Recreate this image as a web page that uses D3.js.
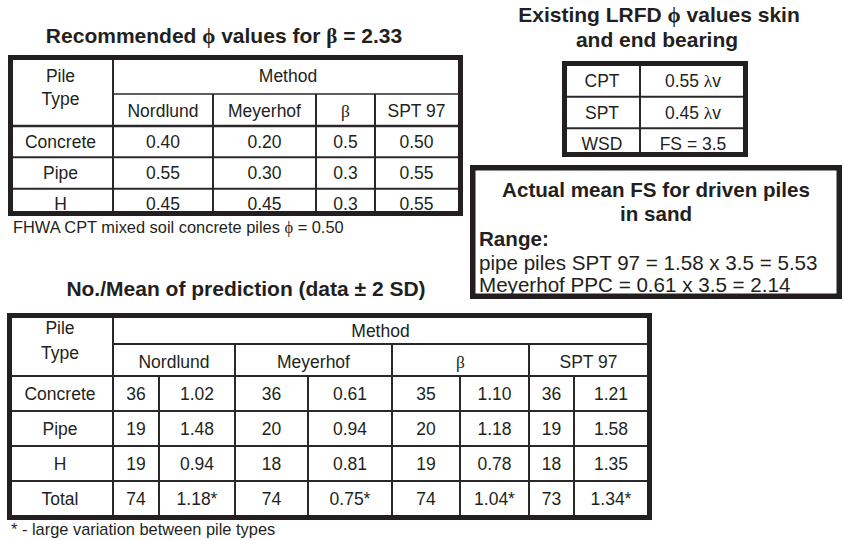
<!DOCTYPE html>
<html><head><meta charset="utf-8">
<script src="https://cdn.jsdelivr.net/npm/d3@7/dist/d3.min.js"></script>
<style>html,body{margin:0;padding:0;background:#fff}svg{display:block}</style>
</head><body>
<svg id="c" width="843" height="540"></svg>
<script>
// ---------- DATA ----------
const phiTitle = "Recommended ϕ values for β = 2.33";
const pileTypesPhi = ["Concrete", "Pipe", "H"];
const methods = ["Nordlund", "Meyerhof", "β", "SPT 97"];
const phiNordlund = [0.40, 0.55, 0.45];
const phiMeyerhof = [0.20, 0.30, 0.45];
const phiBeta = [0.5, 0.3, 0.3];
const phiSpt97 = [0.50, 0.55, 0.55];
const phiNote = "FHWA CPT mixed soil concrete piles ϕ = 0.50";

const lrfdTitle = ["Existing LRFD ϕ values skin", "and end bearing"];
const lrfdMethods = ["CPT", "SPT", "WSD"];
const lrfdValues = ["0.55 λv", "0.45 λv", "FS = 3.5"];

const fsTitle = ["Actual mean FS for driven piles", "in sand"];
const fsRangeLabel = "Range:";
const fsRangeLines = ["pipe piles SPT 97 = 1.58 x 3.5 = 5.53", "Meyerhof PPC = 0.61 x 3.5 = 2.14"];

const predTitle = "No./Mean of prediction (data ± 2 SD)";
const pileTypesPred = ["Concrete", "Pipe", "H", "Total"];
const countNordlund = [36, 19, 19, 74];
const meanNordlund = [1.02, 1.48, 0.94, 1.18];
const countMeyerhof = [36, 20, 18, 74];
const meanMeyerhof = [0.61, 0.94, 0.81, 0.75];
const countBeta = [35, 20, 19, 74];
const meanBeta = [1.10, 1.18, 0.78, 1.04];
const countSpt97 = [36, 19, 18, 73];
const meanSpt97 = [1.21, 1.58, 1.35, 1.34];
const flaggedRows = ["Total"];
const predNote = "* - large variation between pile types";

// ---------- STYLE / LAYOUT ----------
const ink = "#231f20";
const lineInk = "#2b2829";
const sans = "'Liberation Sans', Arial, Helvetica, sans-serif";
const serif = "'Liberation Serif', 'Times New Roman', serif";
const cellSize = 17.5, titleSize = 21, boxSize = 20.6, noteSize = 16.4;
const borderW = 5, innerW = 2;

const svg = d3.select("#c");
const gText = svg.append("g");
const gLines = svg.append("g");

const greek = /([ϕβλ±])/;
function label(g, x, y, s, o = {}) {
  const t = g.append("text")
    .attr("x", x).attr("y", y).attr("dy", o.dy == null ? "0.35em" : o.dy)
    .attr("text-anchor", o.anchor || "middle")
    .attr("font-family", sans)
    .attr("font-size", o.size || cellSize)
    .attr("font-weight", o.weight || "normal")
    .attr("fill", ink);
  String(s).split(greek).filter(p => p.length).forEach(p => {
    const sp = t.append("tspan").text(p);
    if (/^[ϕβλ]$/.test(p)) sp.attr("font-family", serif);
  });
  return t;
}
function hline(x1, x2, y, w = innerW) {
  gLines.append("line").attr("x1", x1).attr("x2", x2).attr("y1", y).attr("y2", y)
    .attr("stroke", lineInk).attr("stroke-width", w);
}
function vline(x, y1, y2, w = innerW) {
  gLines.append("line").attr("x1", x).attr("x2", x).attr("y1", y1).attr("y2", y2)
    .attr("stroke", lineInk).attr("stroke-width", w);
}
function frame(x0, y0, x1, y1, w = borderW) {
  gLines.append("rect").attr("x", x0 + w / 2).attr("y", y0 + w / 2)
    .attr("width", x1 - x0 - w).attr("height", y1 - y0 - w)
    .attr("fill", "none").attr("stroke", ink).attr("stroke-width", w);
}

// ---------- TABLE 1 : recommended phi ----------
{
  const L = { x0: 8, x1: 463, y0: 55, y1: 216, pileX: 113, methodY: 94, headY: 126, rowsEnd: 220 };
  label(gText, 224, 43, phiTitle, { size: titleSize, weight: "bold", dy: 0 });
  // uneven column widths
  const colEdges = d3.scaleOrdinal().domain(methods).range([[113, 213], [213, 316], [316, 375], [375, 458]]);
  const y = d3.scaleBand().domain(pileTypesPhi).range([L.headY, L.rowsEnd]);
  const values = [phiNordlund, phiMeyerhof, phiBeta, phiSpt97];
  const fmt = m => m === "β" ? d3.format(".1f") : d3.format(".2f");

  label(gText, (L.x0 + L.pileX) / 2, 75.5, "Pile");
  label(gText, (L.x0 + L.pileX) / 2, 98.5, "Type");
  label(gText, (L.pileX + L.x1) / 2, 75.5, "Method");
  methods.forEach((m, j) => {
    const [a, b] = colEdges(m);
    label(gText, (a + b) / 2, 111, m);
    pileTypesPhi.forEach((p, i) => label(gText, (a + b) / 2, y(p) + y.bandwidth() / 2, fmt(m)(values[j][i])));
    if (j > 0) vline(a, L.methodY, L.y1);
  });
  pileTypesPhi.forEach(p => {
    label(gText, (L.x0 + L.pileX) / 2, y(p) + y.bandwidth() / 2, p);
    if (p !== pileTypesPhi[0]) hline(L.x0, L.x1, y(p));
  });
  hline(L.pileX, L.x1, L.methodY, 1.6);
  hline(L.x0, L.x1, L.headY, 2.4);
  vline(L.pileX, L.y0, L.y1);
  frame(L.x0, L.y0, L.x1, L.y1);
  label(gText, 13, 233, phiNote, { anchor: "start", size: noteSize, dy: 0 });
}

// ---------- TABLE 2 : existing LRFD ----------
{
  const L = { x0: 562, x1: 748, y0: 61, y1: 157, colX: 640, rowsStart: 65, rowsEnd: 160 };
  label(gText, 659, 22, lrfdTitle[0], { size: titleSize, weight: "bold", dy: 0 });
  label(gText, 657, 47, lrfdTitle[1], { size: titleSize, weight: "bold", dy: 0 });
  const y = d3.scaleBand().domain(lrfdMethods).range([L.rowsStart, L.rowsEnd]);
  lrfdMethods.forEach((m, i) => {
    const cy = y(m) + y.bandwidth() / 2;
    label(gText, (L.x0 + L.colX) / 2 + 1, cy, m);
    label(gText, (L.colX + L.x1) / 2 - 1, cy, lrfdValues[i]);
    if (i > 0) hline(L.x0, L.x1, y(m));
  });
  vline(L.colX, L.y0, L.y1);
  frame(L.x0, L.y0, L.x1, L.y1);
}

// ---------- BOX 3 : actual mean FS ----------
{
  const L = { x0: 470, x1: 842, y0: 165, y1: 299, textX: 479 };
  label(gText, 656, 197, fsTitle[0], { size: boxSize, weight: "bold", dy: 0 });
  label(gText, 656, 221, fsTitle[1], { size: boxSize, weight: "bold", dy: 0 });
  label(gText, L.textX, 246, fsRangeLabel, { size: boxSize, weight: "bold", anchor: "start", dy: 0 });
  fsRangeLines.forEach((s, i) => label(gText, L.textX, 269.5 + i * 22, s, { size: boxSize, anchor: "start", dy: 0 }));
  frame(L.x0, L.y0, L.x1, L.y1, 5.5);
}

// ---------- TABLE 3 : No./Mean of prediction ----------
{
  const L = { x0: 7, x1: 652, y0: 313, y1: 520, pileX: 113, methodY: 344, headY: 376, rowsEnd: 516 };
  label(gText, 246, 296, predTitle, { size: titleSize, weight: "bold", dy: 0 });
  // each method block: [left edge, count|mean divider, right edge]
  const block = d3.scaleOrdinal().domain(methods).range([[113, 159, 235], [235, 308, 392], [392, 460, 529], [529, 574, 648]]);
  const y = d3.scaleBand().domain(pileTypesPred).range([L.headY, L.rowsEnd]);
  const counts = [countNordlund, countMeyerhof, countBeta, countSpt97];
  const means = [meanNordlund, meanMeyerhof, meanBeta, meanSpt97];
  const f2 = d3.format(".2f");

  label(gText, (L.x0 + L.pileX) / 2, 328, "Pile");
  label(gText, (L.x0 + L.pileX) / 2, 353, "Type");
  label(gText, (L.pileX + 648) / 2, 331, "Method");
  methods.forEach((m, j) => {
    const [a, d, b] = block(m);
    label(gText, (a + b) / 2, 362, m);
    pileTypesPred.forEach((p, i) => {
      const cy = y(p) + y.bandwidth() / 2;
      const star = flaggedRows.includes(p) ? "*" : "";
      label(gText, (a + d) / 2, cy, counts[j][i]);
      label(gText, (d + b) / 2, cy, f2(means[j][i]) + star);
    });
    if (j > 0) vline(a, L.methodY, L.y1);
    vline(d, L.headY, L.y1);
  });
  pileTypesPred.forEach(p => {
    label(gText, (L.x0 + L.pileX) / 2, y(p) + y.bandwidth() / 2, p);
    if (p !== pileTypesPred[0]) hline(L.x0, L.x1, y(p));
  });
  hline(L.pileX, L.x1, L.methodY);
  hline(L.x0, L.x1, L.headY);
  vline(L.pileX, L.y0, L.y1);
  frame(L.x0, L.y0, L.x1, L.y1);
  label(gText, 11, 535, predNote, { anchor: "start", size: noteSize, dy: 0 });
}
</script>
</body></html>
